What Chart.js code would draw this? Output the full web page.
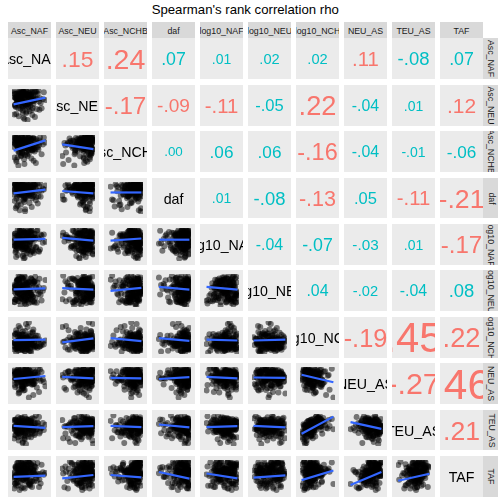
<!DOCTYPE html>
<html><head><meta charset="utf-8">
<script src="https://cdn.jsdelivr.net/npm/chart.js@4.4.1/dist/chart.umd.min.js"></script>
<style>
html,body{margin:0;padding:0;background:#fff;}
body{width:504px;height:504px;position:relative;overflow:hidden;font-family:"Liberation Sans",Arial,sans-serif;}
#title{position:absolute;left:8px;width:474.5px;top:2px;text-align:center;font-size:13.2px;color:#000;white-space:nowrap;}
.strip{position:absolute;background:#D9D9D9;overflow:hidden;color:#1A1A1A;font-size:8.8px;}
.stripTop{display:flex;justify-content:center;white-space:nowrap;line-height:18.5px;}
.stripRight .rot{position:absolute;display:flex;justify-content:center;white-space:nowrap;transform:rotate(90deg);}
canvas.cell{position:absolute;background:#EBEBEB;}
</style></head><body>
<div id="title">Spearman's rank correlation rho</div>
<script>
// ---- variables (column / row order) ----
const varNames = ["Asc_NAF","Asc_NEU","Asc_NCHB","daf","log10_NAF","log10_NEU","log10_NCH","NEU_AS","TEU_AS","TAF"];

// ---- observations, each variable scaled to its own 0-100 range ----
const ascNAF = [12,35,48,7,22,61,29,3,44,18,55,83,26,39,9,67,14,31,52,20,
41,5,27,58,16,73,36,11,47,24,64,2,33,19,50,95,28,42,8,37,
57,15,30,69,23,45,1,38,13,78,26,53,34,6,21,62,43,17,88,32,
10,49,25,40,66,4,36,56,19,28,71,46,14,32,59,24,9,39,51,81,
21,44,0,34,63,17,29,54,12,40,26,75,37,7,48,23,60,15,33,92,
27,51,18,42,6,31,68,22,46,13,35,57,3,28,85,41,16,53,25,38,
43,11,60,30,20,47,76,35,8,55,24,39,65,14,45,29,100,19,50,34,
5,38,62,26,52,16,42,70,31,10,48,22,57,36,80,18,44,27,64,13];
const ascNEU = [78,62,91,45,83,70,26,88,57,95,66,74,50,99,81,12,68,86,59,93,
72,48,85,64,97,38,77,90,55,80,67,20,89,73,61,94,43,84,76,52,
96,69,33,87,58,79,92,47,71,100,63,82,5,75,90,54,86,66,41,98,
60,83,73,29,94,51,88,70,65,79,97,44,85,57,18,91,74,62,87,36,
81,56,99,68,76,90,46,84,63,25,95,72,53,89,78,67,93,40,80,71,
64,92,50,86,75,9,97,61,82,69,88,35,77,94,58,83,70,49,91,66,
85,74,42,96,60,79,89,55,22,87,72,98,65,81,47,93,68,76,31,84,
53,90,78,67,99,14,82,71,95,59,86,39,75,92,63,80,2,88,70,57];
const ascNCHB = [67,88,43,95,72,58,81,30,90,63,77,97,52,85,16,70,93,61,79,48,
86,74,99,55,91,66,38,83,76,94,59,80,24,89,69,97,46,73,87,62,
92,51,78,84,34,96,65,71,88,57,100,75,8,82,68,93,60,90,41,79,
70,95,63,86,50,77,98,27,84,72,91,56,66,89,74,37,94,81,64,87,
58,83,97,69,19,90,76,61,85,93,44,79,71,99,54,87,65,3,82,73,
96,67,84,40,92,78,57,89,70,31,86,62,95,75,81,49,68,91,80,60,
77,99,53,88,71,94,64,82,22,90,58,85,74,96,66,42,80,92,69,87,
83,62,93,75,98,47,86,12,79,91,68,84,56,97,72,89,35,76,94,65];
const daf = [91,74,63,98,82,55,87,40,95,69,78,100,58,85,21,93,72,66,89,80,
62,97,84,49,90,76,11,94,68,83,59,99,73,88,33,79,96,65,86,52,
77,92,70,85,28,98,61,81,94,56,89,74,45,97,67,83,90,38,75,99,
86,60,93,79,71,96,4,87,64,91,53,82,99,68,77,95,47,84,72,90,
95,67,81,36,97,74,88,57,92,78,63,100,85,15,76,94,69,89,51,83,
73,98,59,90,80,44,96,70,86,25,93,65,79,97,54,88,75,92,62,84,
89,56,94,77,99,68,31,85,91,72,82,48,96,64,87,78,93,8,80,97,
70,92,84,61,98,75,88,42,95,81,66,90,19,86,73,99,58,83,94,77];
const log10NAF = [62,38,85,51,93,27,70,47,79,58,99,33,66,88,44,74,15,56,91,68,
49,81,63,30,76,95,54,41,87,60,22,72,35,97,59,83,46,67,8,78,
90,55,43,71,84,36,64,100,52,28,77,61,89,45,69,32,94,57,80,19,
48,73,96,39,65,86,53,26,82,70,42,91,58,3,75,63,34,87,50,68,
78,31,59,92,46,67,12,84,55,73,40,98,62,29,81,49,71,37,88,56,
66,94,43,75,24,60,86,50,33,79,69,97,45,57,83,21,72,61,90,38,
54,80,67,35,89,48,74,6,63,93,41,70,85,52,30,77,59,96,44,65,
87,42,71,58,17,82,64,39,95,53,76,47,68,90,26,61,79,34,73,99];
const log10NEU = [52,18,77,40,63,29,88,11,57,71,34,46,92,24,66,81,15,49,60,37,
74,21,55,86,43,9,68,31,79,50,14,62,39,95,27,58,83,45,19,70,
35,61,90,26,53,76,12,47,84,38,65,22,99,56,30,73,42,87,17,59,
81,44,23,67,10,54,93,36,72,28,61,48,85,16,75,41,64,3,51,89,
25,69,47,13,80,58,33,91,44,20,66,77,38,55,8,71,29,86,62,49,
57,32,78,64,20,43,96,52,27,84,39,11,69,58,35,74,100,46,22,82,
41,87,15,60,73,33,50,7,67,90,26,54,79,44,18,63,85,37,56,70,
66,24,50,94,39,14,76,59,31,82,47,0,72,36,61,88,21,53,78,42];
const log10NCH = [18,5,27,12,33,22,9,30,15,24,2,20,35,11,26,17,7,29,14,23,
21,31,8,25,16,34,3,19,28,13,24,10,32,18,6,27,15,22,0,30,
29,14,38,22,43,9,33,25,17,40,27,6,35,20,31,44,12,36,24,19,
37,23,11,41,30,18,45,26,8,34,21,39,15,28,42,32,13,25,36,20,
42,27,55,33,19,48,61,36,24,51,40,16,58,30,45,38,65,22,47,35,
31,53,44,20,62,37,49,26,57,41,17,46,34,59,28,52,39,64,23,43,
50,35,68,43,82,29,56,47,74,38,61,95,33,53,45,70,40,58,27,49,
62,41,77,54,30,88,46,57,36,66,100,51,39,72,44,59,85,34,48,63];
const neuAS = [88,72,95,64,81,99,76,69,92,84,61,97,79,90,67,86,100,74,83,93,
58,81,43,70,92,37,65,86,52,77,48,89,61,73,94,55,40,68,83,75,
82,97,66,89,74,59,93,78,85,100,63,91,70,87,56,80,96,72,88,68,
51,76,30,64,87,45,70,58,82,38,67,90,55,27,73,61,84,48,79,66,
77,93,60,85,49,71,98,82,66,90,55,79,95,68,87,74,47,91,83,63,
44,72,20,61,83,35,56,78,50,66,28,69,81,41,59,75,17,64,53,85,
70,88,52,95,76,63,84,45,91,79,58,99,67,82,73,89,41,86,61,94,
38,65,12,57,74,29,50,80,43,62,3,71,47,55,22,68,78,34,59,46];
const teuAS = [42,18,55,31,63,47,9,51,36,60,25,44,57,2,49,38,64,29,53,40,
58,33,46,61,14,52,39,65,27,48,56,21,43,62,35,50,5,59,45,30,
61,44,73,52,28,67,56,78,39,64,48,70,22,59,75,50,66,36,57,80,
46,69,55,77,33,62,71,41,58,79,51,65,25,74,60,44,68,53,76,38,
72,58,84,49,66,79,61,88,54,70,42,76,63,85,57,68,37,81,65,74,
59,80,67,45,86,62,73,52,83,69,40,77,64,89,56,71,48,75,82,60,
78,63,91,70,55,85,74,97,66,81,50,88,72,94,60,79,68,86,47,76,
83,69,57,92,75,64,87,100,71,80,53,90,67,77,95,61,84,73,89,65];
const taf = [78,62,95,54,86,70,99,47,81,66,91,58,74,88,50,83,97,68,76,61,
42,27,65,15,53,36,71,48,22,59,33,10,67,45,28,56,39,74,19,50,
85,67,92,56,79,100,63,88,72,53,94,77,60,83,69,96,51,75,89,65,
38,55,12,47,70,26,61,33,5,52,44,68,20,57,35,73,29,49,64,41,
73,90,58,84,66,97,52,79,87,62,71,95,55,82,68,99,60,76,92,64,
46,23,63,37,78,14,55,31,69,48,10,58,40,74,27,52,66,34,80,43,
80,94,65,87,71,100,59,83,76,91,68,97,57,85,73,89,62,79,96,70,
51,34,72,60,19,66,45,81,38,57,25,70,48,63,15,54,77,42,85,31];

// ---- Spearman rho, upper triangle, row by row ----
const rho = [
  [0.15,0.24,0.07,0.01,0.02,0.02,0.11,-0.08,0.07],
  [-0.17,-0.09,-0.11,-0.05,0.22,-0.04,0.01,0.12],
  [0.00,0.06,0.06,-0.16,-0.04,-0.01,-0.06],
  [0.01,-0.08,-0.13,0.05,-0.11,-0.21],
  [-0.04,-0.07,-0.03,0.01,-0.17],
  [0.04,-0.02,-0.04,0.08],
  [-0.19,0.45,0.22],
  [-0.27,0.46],
  [0.21]
];

// ---- linear fit in lower panels: fitted y at the smallest and the largest x ----
const fitStart = [
  [54],
  [53,74],
  [66,74,69],
  [66,72,63,66],
  [54,58,49,62,62],
  [41,34,48,48,43,40],
  [65,72,69,65,72,70,79],
  [64,60,64,69,60,64,37,77],
  [49,44,55,65,60,46,38,22,36]
];
const fitEnd = [
  [76],
  [87,58],
  [79,66,69],
  [69,63,70,66],
  [57,53,59,53,53],
  [43,47,38,39,40,43],
  [75,67,67,71,67,69,54],
  [57,63,60,59,63,59,96,54],
  [53,55,47,43,44,54,70,65,59]
];

const series = [ascNAF, ascNEU, ascNCHB, daf, log10NAF, log10NEU, log10NCH, neuAS, teuAS, taf];
const N = Math.min(...series.map(s => s.length));

const FONT = '"Liberation Sans", Arial, sans-serif';
const textPlugin = spec => ({
  id: 'cellText',
  afterDraw(chart) {
    const {ctx, scales} = chart;
    const cx = scales.x.getPixelForValue(50), cy = scales.y.getPixelForValue(50);
    ctx.save();
    ctx.font = spec.size + 'px ' + FONT;
    ctx.fillStyle = spec.color;
    ctx.textAlign = 'center';
    ctx.textBaseline = 'alphabetic';
    ctx.fillText(spec.text, cx, cy + spec.dy);
    ctx.restore();
  }
});

function fmt(r) {
  const s = Math.abs(r).toFixed(2).replace(/^0/, '');
  return (r < 0 ? '-' : '') + s;
}

const colLeft = j => 8 + 48 * j;
const rowTop = i => Math.round(38.3 + 46.4 * i);
const rowH = i => Math.round(38.3 + 46.4 * i + 40.9) - rowTop(i);
const W = 43;

function addCanvas(i, j) {
  const c = document.createElement('canvas');
  c.className = 'cell';
  c.width = W; c.height = rowH(i);
  c.style.left = colLeft(j) + 'px';
  c.style.top = rowTop(i) + 'px';
  c.style.width = W + 'px'; c.style.height = rowH(i) + 'px';
  document.body.appendChild(c);
  return c;
}

function makeChart(canvas, datasets, plugins) {
  return new Chart(canvas, {
    type: 'scatter',
    data: {datasets},
    options: {
      responsive: false, animation: false, devicePixelRatio: 1, events: [],
      layout: {padding: 0},
      plugins: {legend: {display: false}, tooltip: {enabled: false}, title: {display: false}},
      scales: {
        x: {type: 'linear', display: false, min: -5, max: 105},
        y: {type: 'linear', display: false, min: -5, max: 105}
      }
    },
    plugins
  });
}

const P = varNames.length;
for (let i = 0; i < P; i++) {
  for (let j = 0; j < P; j++) {
    const cv = addCanvas(i, j);
    if (i === j) {
      makeChart(cv, [], [textPlugin({text: varNames[i], size: 14.2, color: '#000000', dy: 5.6})]);
    } else if (j > i) {
      const r = rho[i][j - i - 1];
      const size = 13.4 + 63 * Math.abs(r);
      const color = Math.abs(r) >= 0.09 ? '#F8766D' : '#00BFC4';
      makeChart(cv, [], [textPlugin({text: fmt(r), size, color, dy: 0.358 * size})]);
    } else {
      const xs = series[j], ys = series[i];
      const pts = [];
      for (let k = 0; k < N; k++) pts.push({x: xs[k], y: ys[k]});
      const xmin = Math.min(...xs.slice(0, N)), xmax = Math.max(...xs.slice(0, N));
      const fit = [{x: xmin, y: fitStart[i - 1][j]}, {x: xmax, y: fitEnd[i - 1][j]}];
      makeChart(cv, [
        {data: fit, showLine: true, borderColor: '#3366FF', borderWidth: 2.2, pointRadius: 0, fill: false},
        {data: pts, showLine: false, pointRadius: 3.0, pointBorderWidth: 0,
         pointBackgroundColor: 'rgba(0,0,0,0.5)', backgroundColor: 'rgba(0,0,0,0.5)', borderColor: 'rgba(0,0,0,0)'}
      ], []);
    }
  }
}

// ---- strips ----
for (let j = 0; j < P; j++) {
  const d = document.createElement('div');
  d.className = 'strip stripTop';
  d.style.left = colLeft(j) + 'px'; d.style.top = '22px';
  d.style.width = W + 'px'; d.style.height = '16px';
  const s = document.createElement('span'); s.textContent = varNames[j];
  d.appendChild(s);
  document.body.appendChild(d);
}
for (let i = 0; i < P; i++) {
  const h = rowH(i), w = 15;
  const d = document.createElement('div');
  d.className = 'strip stripRight';
  d.style.left = (colLeft(P - 1) + W) + 'px'; d.style.top = rowTop(i) + 'px';
  d.style.width = w + 'px'; d.style.height = h + 'px';
  const r = document.createElement('div');
  r.className = 'rot';
  r.style.width = h + 'px'; r.style.height = w + 'px';
  r.style.lineHeight = w + 'px';
  r.style.left = ((w - h) / 2) + 'px'; r.style.top = ((h - w) / 2) + 'px';
  const s = document.createElement('span'); s.textContent = varNames[i];
  r.appendChild(s);
  d.appendChild(r);
  document.body.appendChild(d);
}
</script>
</body></html>
